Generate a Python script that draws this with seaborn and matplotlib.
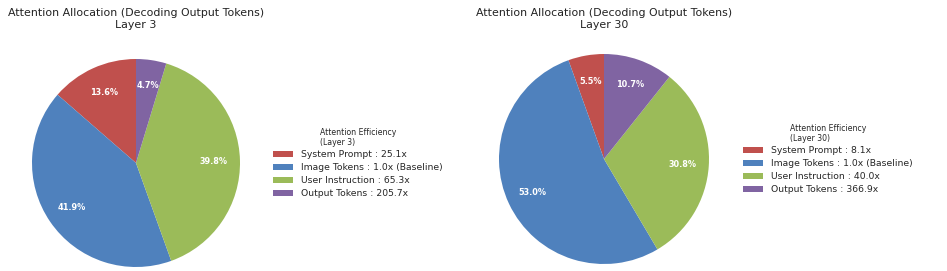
import matplotlib
matplotlib.use('Agg')
import matplotlib.pyplot as plt
import seaborn as sns

# data
categories = ['System Prompt', 'Image Tokens', 'User Instruction', 'Output Tokens']
layer3_share = [13.6, 41.9, 39.8, 4.7]
layer30_share = [5.5, 53.0, 30.8, 10.7]
layer3_eff = ['25.1x', '1.0x (Baseline)', '65.3x', '205.7x']
layer30_eff = ['8.1x', '1.0x (Baseline)', '40.0x', '366.9x']
layers = [3, 30]

colors = ['#C0504D', '#4F81BD', '#9BBB59', '#8064A2']

sns.set_theme(style='white')
plt.rcParams['font.family'] = ['DejaVu Sans']

fig = plt.figure(figsize=(9.47, 2.71), dpi=100)
W, H = 947, 271

panels = [
    (layer3_share, layer3_eff, 3, (136, 163, 104), (273, 128)),
    (layer30_share, layer30_eff, 30, (604, 159, 105), (743, 124)),
]

for share, eff, layer, (cx, cy, r), (lx, ly) in panels:
    ax = fig.add_axes([(cx - r) / W, (H - cy - r) / H, 2 * r / W, 2 * r / H])
    wedges, _, autotexts = ax.pie(share, colors=colors, startangle=90,
                                  autopct='%1.1f%%', pctdistance=0.75,
                                  wedgeprops=dict(linewidth=0))
    for t in autotexts:
        t.set_color('white')
        t.set_fontweight('bold')
        t.set_fontsize(5.9)
    ax.set_xlim(-1, 1)
    ax.set_ylim(-1, 1)
    ax.set_aspect('equal')
    fig.text(cx / W, 1 - 8 / H,
             f'Attention Allocation (Decoding Output Tokens)\nLayer {layer}',
             ha='center', va='top', fontsize=7.9, linespacing=1.3, color='#222222')
    labels = [f'{c} : {e}' for c, e in zip(categories, eff)]
    leg = fig.legend(wedges, labels, loc='upper left',
                     bbox_to_anchor=(lx / W, 1 - ly / H),
                     frameon=False, fontsize=6.7,
                     title=f'Attention Efficiency\n(Layer {layer})',
                     title_fontsize=5.6, handlelength=2.15, handleheight=0.65,
                     handletextpad=0.85, labelspacing=0.42,
                     borderaxespad=0, borderpad=0)
    leg._legend_box.sep = 2

plt.savefig('out.png', dpi=100)
